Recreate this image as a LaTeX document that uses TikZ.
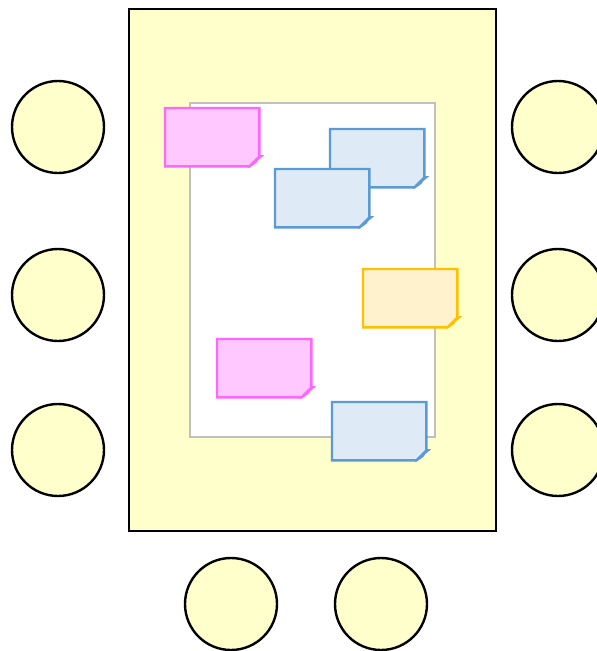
\documentclass[tikz,border=0pt]{standalone}
\usetikzlibrary{calc}
\definecolor{tablefill}{HTML}{FFFFCC}
\definecolor{paperline}{HTML}{C0C0C0}
\definecolor{pinkfill}{HTML}{FFC8FF}
\definecolor{pinkline}{HTML}{FF66FF}
\definecolor{bluefill}{HTML}{DEEAF6}
\definecolor{blueline}{HTML}{5B9BD5}
\definecolor{orangefill}{HTML}{FFF2CC}
\definecolor{orangeline}{HTML}{FFC000}
\tikzset{
  seat/.style={circle, draw=black, fill=tablefill, line width=2.4pt, minimum size=92pt, inner sep=0pt},
  notebox/.style={rectangle, anchor=north west, minimum width=94pt, minimum height=58pt, inner sep=0pt},
  noteline/.style={line width=2.4pt, line join=miter},
}
\newcommand{\stickynote}[4]{%
  \node[notebox] (#1) at (#2,#3) {};
  \filldraw[noteline, draw=#4line, fill=#4fill] (#1.north west) -- (#1.north east) -- ($(#1.south east)+(0,-10)$) -- ($(#1.south east)+(-10,0)$) -- (#1.south west) -- cycle;
  \filldraw[#4line, line width=0.8pt, line join=round] ($(#1.south east)+(-11,1)$) -- ($(#1.south east)+(4,-11)$) -- ($(#1.south east)+(0,-11)$) .. controls ($(#1.south east)+(-2,-4)$) .. ($(#1.south east)+(-11,1)$) -- cycle;
}
\begin{document}
\begin{tikzpicture}[x=1pt,y=-1pt]
\useasboundingbox (0,0) rectangle (597,651);
\begin{scope}
\clip (0,0) rectangle (597,651);
\node[draw=black, fill=tablefill, line width=2.4pt, minimum width=367pt, minimum height=522pt, inner sep=0pt, anchor=north west] (table) at (128,8) {};
\node[draw=paperline, fill=white, line width=2.4pt, minimum width=245pt, minimum height=334pt, inner sep=0pt, anchor=north west] (paper) at (189,102) {};
\node[seat] (l1) at (58,127) {};
\node[seat] (l2) at (58,295) {};
\node[seat] (l3) at (58,450) {};
\node[seat] (r1) at (558,127) {};
\node[seat] (r2) at (558,295) {};
\node[seat] (r3) at (558,450) {};
\node[seat] (b1) at (231,604) {};
\node[seat] (b2) at (381,604) {};
\stickynote{p1}{165}{108}{pink}
\stickynote{n1}{330}{129}{blue}
\stickynote{n2}{275}{169}{blue}
\stickynote{o1}{363}{269}{orange}
\stickynote{p2}{217}{339}{pink}
\stickynote{n3}{332}{402}{blue}
\end{scope}
\end{tikzpicture}
\end{document}
